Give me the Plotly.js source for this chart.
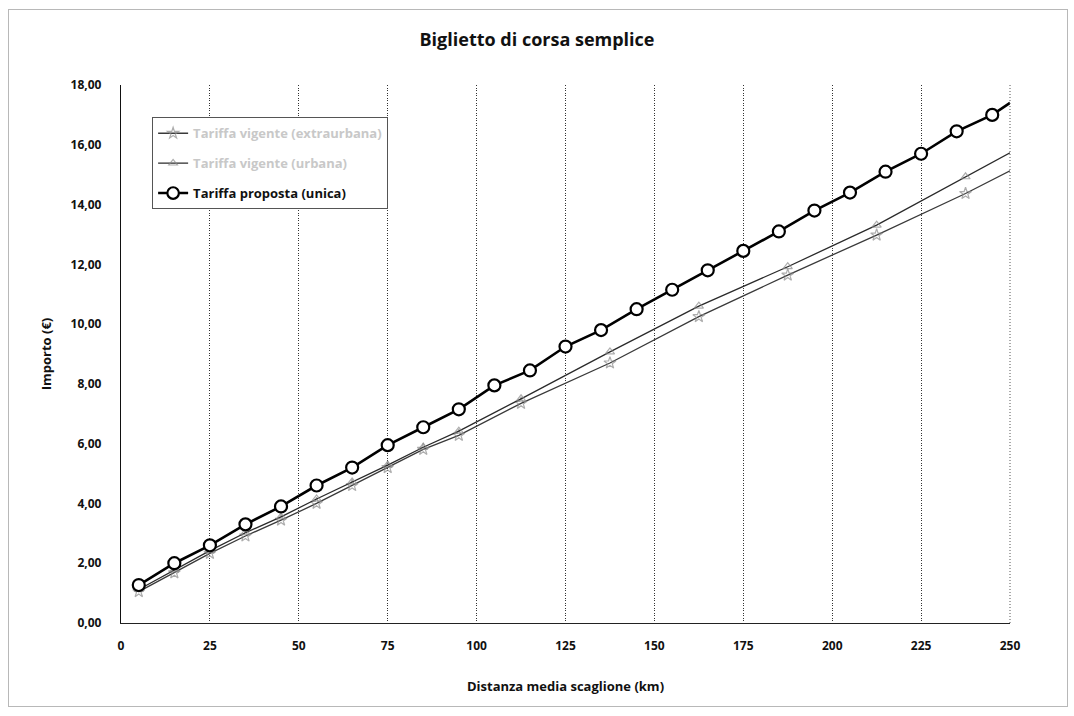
<!DOCTYPE html>
<html>
<head>
<meta charset="utf-8">
<script src="https://cdn.plot.ly/plotly-3.0.1.min.js"></script>
<style>
  html, body { margin: 0; padding: 0; background: #fff; }
  #wrap { position: relative; width: 1074px; height: 716px; }
  #chart { width: 1074px; height: 716px; }
  #frame { position: absolute; left: 8px; top: 9px; width: 1058px; height: 696px;
           border: 1px solid #b8b8b8; pointer-events: none; }
</style>
</head>
<body>
<div id="wrap"><div id="chart"></div><div id="frame"></div></div>
<script>
// Series 1 & 2: average distance of each fare band (km)
const bandX = [5, 15, 25, 35, 45, 55, 65, 75, 85, 95, 112.5, 137.5, 162.5, 187.5, 212.5, 237.5, 250];
const series1Name = 'Tariffa vigente (extraurbana)';
const series1 = [1.05, 1.68, 2.33, 2.91, 3.44, 4.00, 4.60, 5.20, 5.81, 6.28, 7.35, 8.70, 10.25, 11.64, 12.98, 14.37, 15.13];
const series2Name = 'Tariffa vigente (urbana)';
const series2 = [1.12, 1.78, 2.42, 3.02, 3.55, 4.15, 4.72, 5.28, 5.88, 6.42, 7.50, 9.07, 10.60, 11.92, 13.31, 14.93, 15.73];
// Series 3: proposed single fare
const propX = [5, 15, 25, 35, 45, 55, 65, 75, 85, 95, 105, 115, 125, 135, 145, 155, 165, 175, 185, 195, 205, 215, 225, 235, 245, 250];
const series3Name = 'Tariffa proposta (unica)';
const series3 = [1.27, 2.00, 2.60, 3.30, 3.90, 4.60, 5.20, 5.95, 6.55, 7.15, 7.95, 8.45, 9.25, 9.80, 10.50, 11.15, 11.80, 12.45, 13.10, 13.80, 14.40, 15.10, 15.70, 16.45, 17.00, 17.40];

const titleText = 'Biglietto di corsa semplice';
const xTitle = 'Distanza media scaglione (km)';
const yTitle = 'Importo (€)';

function sizes(n, s) { const a = new Array(n).fill(s); a[n - 1] = 0; return a; }

const FONT = 'Open Sans, Lato, sans-serif';

const traces = [
  {
    x: bandX, y: series1, name: '<span style="color:#c8c8c8">' + series1Name + '</span>',
    type: 'scatter', mode: 'lines+markers', legendgroup: 'a',
    line: { color: '#3a3a3a', width: 1.3 },
    marker: { symbol: 'star-open', size: sizes(bandX.length, 9), color: '#8a8a8a', line: { width: 1.2, color: '#8a8a8a' } }
  },
  {
    x: bandX, y: series2, name: '<span style="color:#c8c8c8">' + series2Name + '</span>',
    type: 'scatter', mode: 'lines+markers', legendgroup: 'b',
    line: { color: '#2a2a2a', width: 1.3 },
    marker: { symbol: 'triangle-up-open', size: sizes(bandX.length, 8), color: '#8a8a8a', line: { width: 1.2, color: '#8a8a8a' } }
  },
  {
    x: propX, y: series3, name: series3Name,
    type: 'scatter', mode: 'lines+markers', legendgroup: 'c',
    line: { color: '#000', width: 2.6 },
    marker: { symbol: 'circle', size: sizes(propX.length, 12), color: 'rgb(255,255,255)', opacity: 1, line: { width: 2.2, color: '#000' } }
  }
];

const layout = {
  width: 1074, height: 716,
  paper_bgcolor: '#fff', plot_bgcolor: '#fff',
  separators: ',.',
  margin: { l: 121, r: 64, t: 85, b: 93 },
  font: { family: FONT, color: '#111' },
  title: { text: '<b>' + titleText + '</b>', x: 0.5, xref: 'container', y: 0.945, yanchor: 'middle',
           font: { family: FONT, size: 18, color: '#111' } },
  showlegend: true,
  legend: {
    x: 0.035, y: 0.94, xanchor: 'left', yanchor: 'top',
    bgcolor: '#fff', bordercolor: '#555', borderwidth: 1,
    font: { family: FONT, size: 13, color: '#111', weight: 'bold' },
    traceorder: 'grouped', tracegroupgap: 10
  },
  xaxis: {
    range: [0, 250], dtick: 25, tick0: 0,
    showgrid: true, gridcolor: '#333', griddash: '1px,1.5px', gridwidth: 1,
    zeroline: false, showline: true, linecolor: '#222', linewidth: 1,
    ticks: 'outside', ticklen: 12, tickcolor: 'rgba(0,0,0,0)',
    tickfont: { family: FONT, size: 12, color: '#111', weight: 'bold' },
    title: { text: '<b>' + xTitle + '</b>', standoff: 28, font: { family: FONT, size: 13, color: '#111' } }
  },
  yaxis: {
    range: [0, 18], dtick: 2, tick0: 0, tickformat: '.2f',
    showgrid: false, zeroline: false,
    showline: true, linecolor: '#111', linewidth: 1.2,
    ticks: 'outside', ticklen: 16, tickcolor: 'rgba(0,0,0,0)',
    tickfont: { family: FONT, size: 12, color: '#111', weight: 'bold' },
    title: { text: '<b>' + yTitle + '</b>', standoff: 16, font: { family: FONT, size: 13, color: '#111' } }
  },
  shapes: [
    { type: 'line', xref: 'paper', yref: 'paper', x0: 1, x1: 1, y0: 0, y1: 1,
      line: { color: '#555', width: 1, dash: '1px,2px' } }
  ]
};

Plotly.newPlot('chart', traces, layout, { displayModeBar: false, staticPlot: true });
</script>
</body>
</html>
